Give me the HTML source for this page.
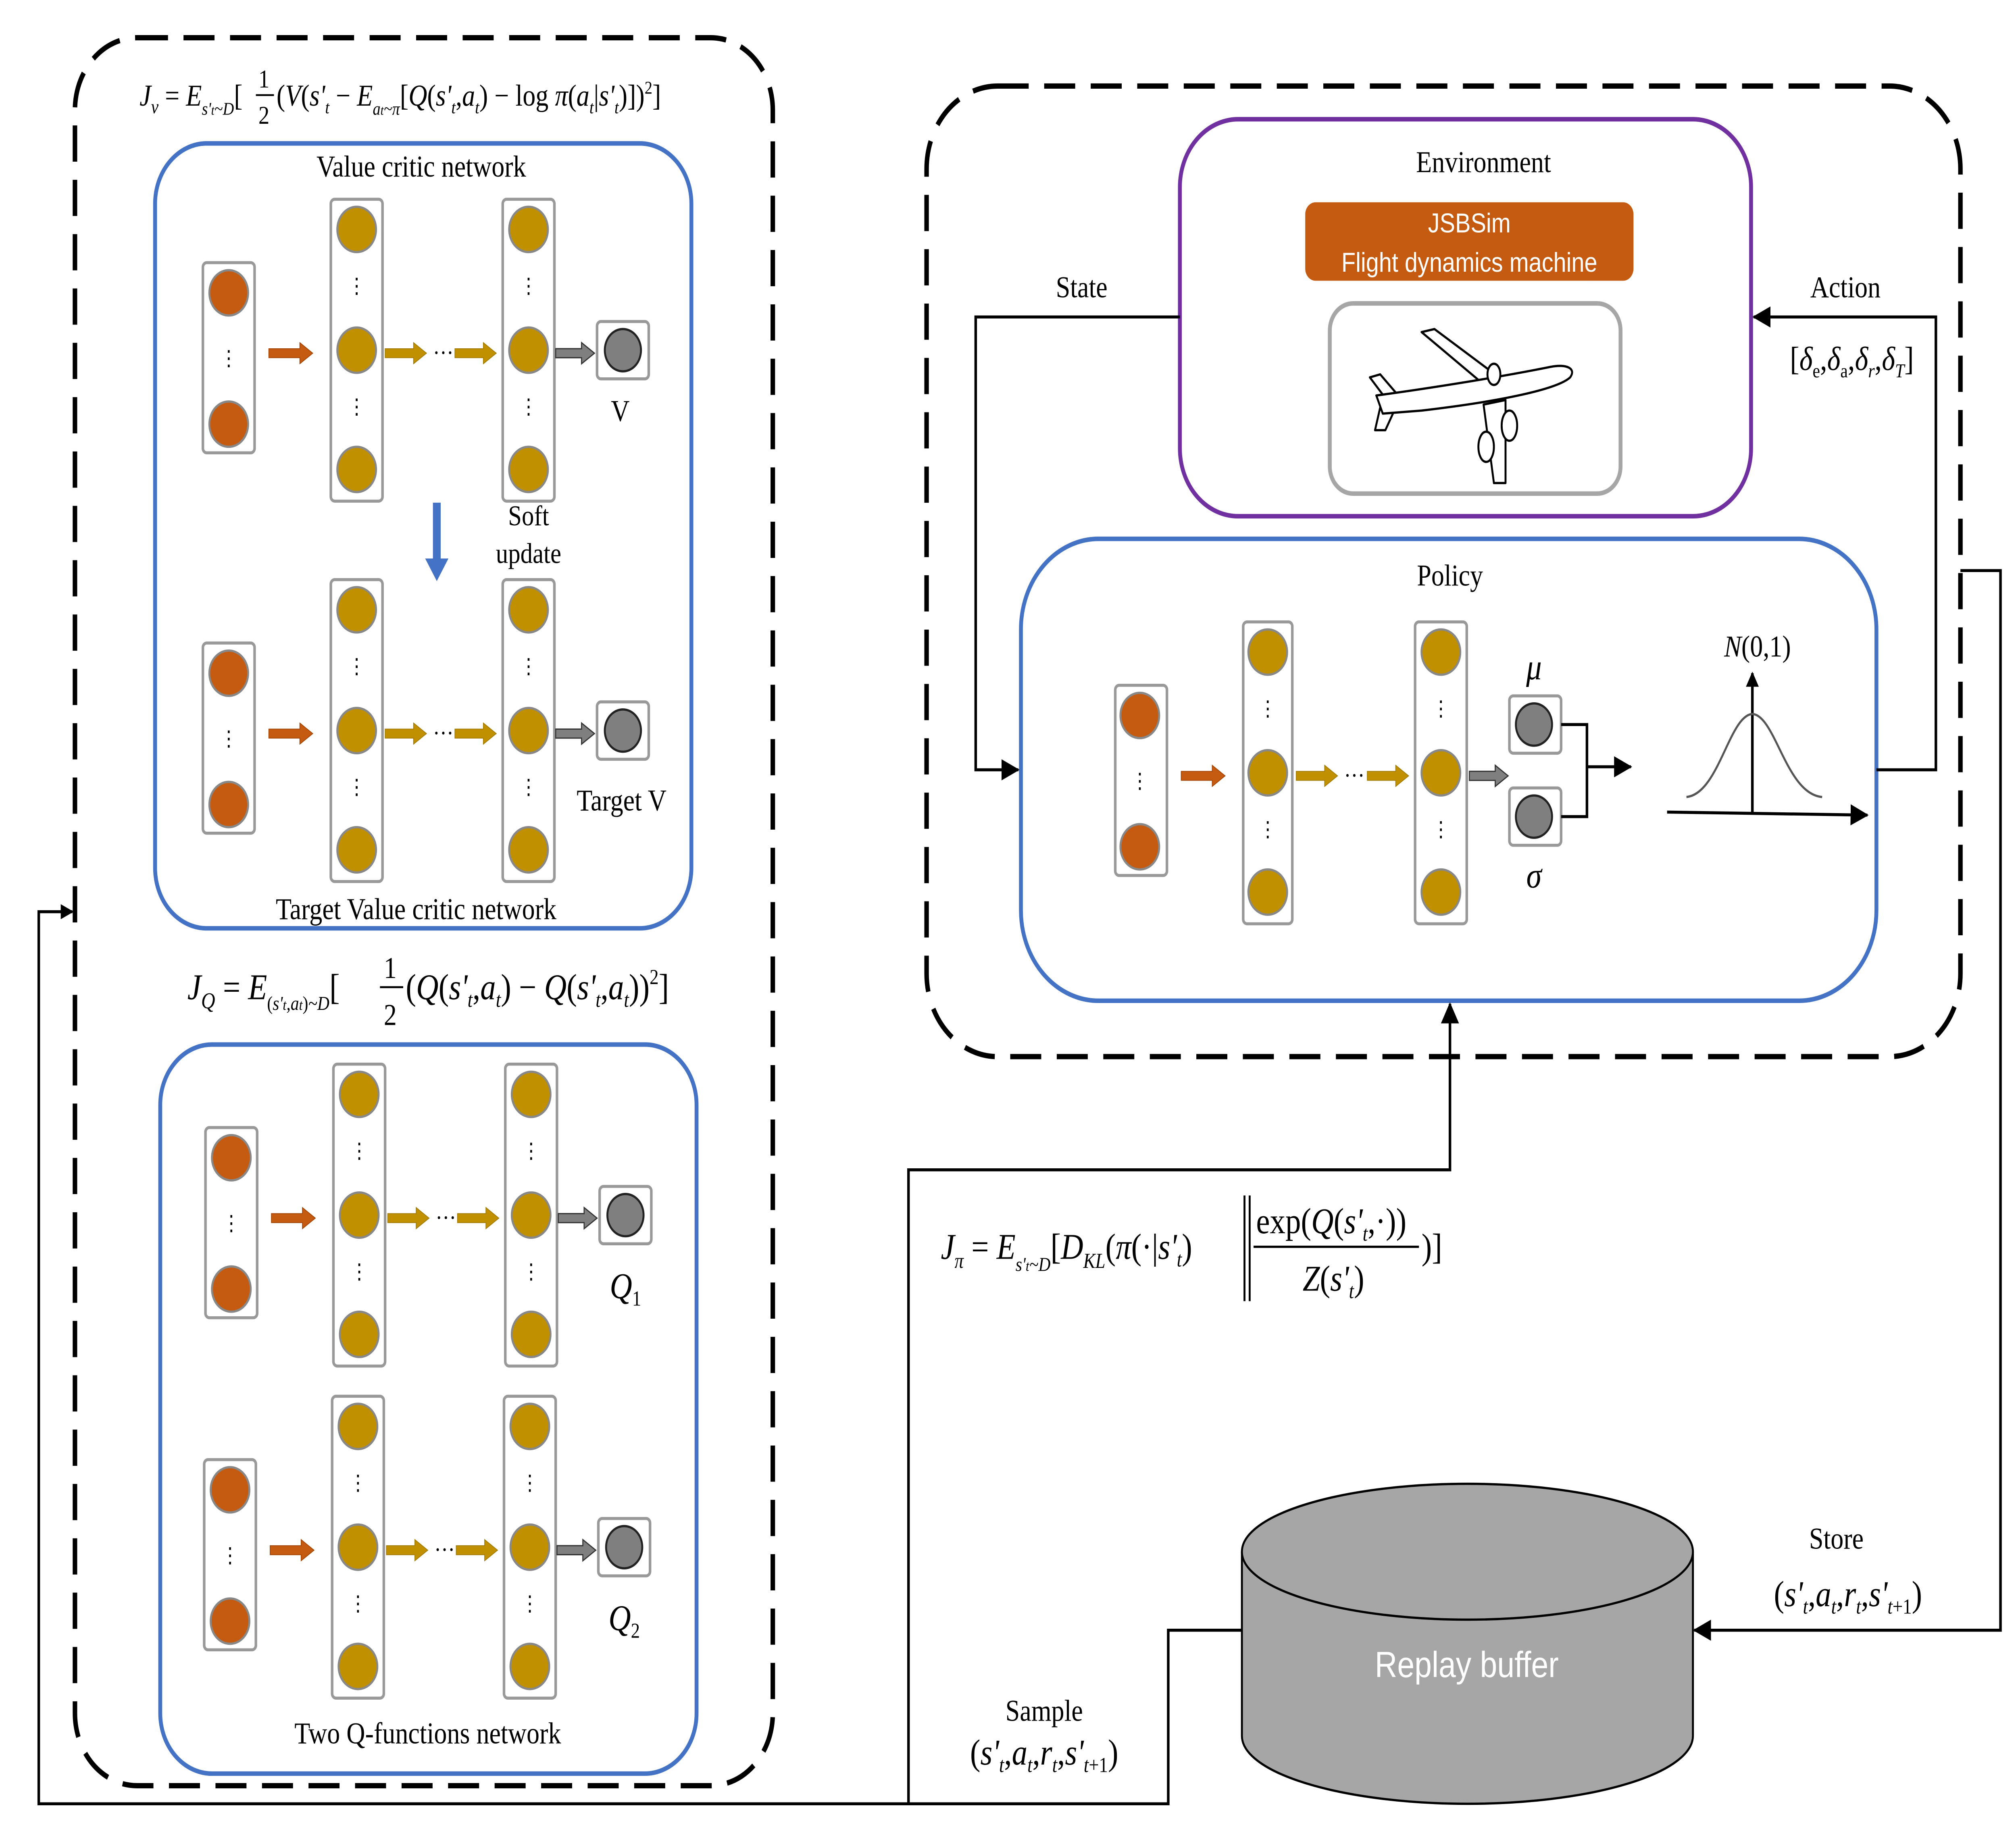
<!DOCTYPE html>
<html><head><meta charset="utf-8"><style>
html,body{margin:0;padding:0;background:#fff;width:100%;height:100%;overflow:hidden;}
svg{display:block;width:100vw;height:100vh;}
text{font-family:"Liberation Serif",serif;fill:#000;}
.m{font-style:italic;}
</style></head><body>
<svg viewBox="0 0 1560 1206.4" preserveAspectRatio="none" xmlns="http://www.w3.org/2000/svg">
<defs>
<marker id="ah" markerWidth="10" markerHeight="10" refX="9" refY="5" orient="auto" markerUnits="userSpaceOnUse"><path d="M0,0 L10,5 L0,10 z" fill="#000"/></marker>
<marker id="ahb" markerWidth="14" markerHeight="14" refX="13" refY="7" orient="auto" markerUnits="userSpaceOnUse"><path d="M0,0 L14,7 L0,14 z" fill="#000"/></marker>
<g id="oa"><path d="M0,-3 L24,-3 L24,-7 L34,0 L24,7 L24,3 L0,3 z" fill="#c55a11" stroke="#a04000" stroke-width="0.5"/></g>
<g id="ga"><path d="M0,-3 L22,-3 L22,-7 L32,0 L22,7 L22,3 L0,3 z" fill="#c09000" stroke="#a07800" stroke-width="0.5"/></g>
<g id="ka"><path d="M0,-3 L20,-3 L20,-7 L30,0 L20,7 L20,3 L0,3 z" fill="#7f7f7f" stroke="#333" stroke-width="0.8"/></g>
<g id="net">
<rect x="-19" y="-60" width="40" height="126" rx="3" fill="#fff" stroke="#999" stroke-width="2"/>
<circle cx="1" cy="-40" r="15" fill="#c55a11" stroke="#888" stroke-width="1.5"/>
<circle cx="1" cy="47" r="15" fill="#c55a11" stroke="#888" stroke-width="1.5"/>
<text x="1" y="8" font-size="14" text-anchor="middle">⋮</text>
<use href="#oa" x="32" y="0"/>
<rect x="80" y="-102" width="40" height="200" rx="3" fill="#fff" stroke="#999" stroke-width="2"/>
<circle cx="100" cy="-82" r="15" fill="#c09000" stroke="#888" stroke-width="1.5"/>
<circle cx="100" cy="-2" r="15" fill="#c09000" stroke="#888" stroke-width="1.5"/>
<circle cx="100" cy="77" r="15" fill="#c09000" stroke="#888" stroke-width="1.5"/>
<text x="100" y="-40" font-size="14" text-anchor="middle">⋮</text>
<text x="100" y="40" font-size="14" text-anchor="middle">⋮</text>
<use href="#ga" x="122" y="0"/>
<text x="167" y="5" font-size="16" text-anchor="middle">···</text>
<use href="#ga" x="176" y="0"/>
<rect x="213" y="-102" width="40" height="200" rx="3" fill="#fff" stroke="#999" stroke-width="2"/>
<circle cx="233" cy="-82" r="15" fill="#c09000" stroke="#888" stroke-width="1.5"/>
<circle cx="233" cy="-2" r="15" fill="#c09000" stroke="#888" stroke-width="1.5"/>
<circle cx="233" cy="77" r="15" fill="#c09000" stroke="#888" stroke-width="1.5"/>
<text x="233" y="-40" font-size="14" text-anchor="middle">⋮</text>
<text x="233" y="40" font-size="14" text-anchor="middle">⋮</text>
<use href="#ka" x="254" y="0"/>
<rect x="286" y="-21" width="40" height="38" rx="3" fill="#fff" stroke="#999" stroke-width="2"/>
<circle cx="306" cy="-2" r="14" fill="#7f7f7f" stroke="#222" stroke-width="1.5"/>
</g>
</defs>

<rect x="58" y="25" width="540" height="1158" rx="48" fill="none" stroke="#000" stroke-width="3.5" stroke-dasharray="24,12"/>
<rect x="717" y="57" width="800" height="643" rx="55" fill="none" stroke="#000" stroke-width="3.5" stroke-dasharray="24,12"/>

<rect x="120" y="95" width="415" height="520" rx="40" fill="none" stroke="#4472c4" stroke-width="3"/>
<text x="326" y="117" font-size="20" text-anchor="middle">Value critic network</text>
<text x="322" y="609" font-size="20" text-anchor="middle">Target Value critic network</text>
<use href="#net" x="176" y="234"/>
<text x="480" y="279" font-size="20" text-anchor="middle">V</text>
<path d="M335,333 L335,370 L329,370 L338,385 L347,370 L341,370 L341,333 z" fill="#4472c4"/>
<text x="409" y="348" font-size="19" text-anchor="middle">Soft</text>
<text x="409" y="373" font-size="19" text-anchor="middle">update</text>
<use href="#net" x="176" y="486"/>
<text x="481" y="537" font-size="20" text-anchor="middle">Target V</text>

<text x="108" y="70" font-size="20" class="m">J<tspan font-size="13" dy="5">v</tspan><tspan dy="-5" font-style="normal"> = </tspan>E<tspan font-size="12" dy="6">s'<tspan font-size="9">t</tspan>~D</tspan><tspan dy="-6" font-style="normal">[</tspan></text>
<text x="200" y="58" font-size="17" font-style="normal">1</text>
<line x1="198" y1="63" x2="212" y2="63" stroke="#000" stroke-width="1.2"/>
<text x="200" y="82" font-size="17" font-style="normal">2</text>
<text x="214" y="70" font-size="20" class="m"><tspan font-style="normal">(</tspan>V<tspan font-style="normal">(</tspan>s'<tspan font-size="12" dy="5">t</tspan><tspan dy="-5" font-style="normal"> − </tspan>E<tspan font-size="12" dy="6">a<tspan font-size="9">t</tspan>~π</tspan><tspan dy="-6" font-style="normal">[</tspan>Q<tspan font-style="normal">(</tspan>s'<tspan font-size="12" dy="5">t</tspan><tspan dy="-5" font-style="normal">,</tspan>a<tspan font-size="12" dy="5">t</tspan><tspan dy="-5" font-style="normal">) − log </tspan>π<tspan font-style="normal">(</tspan>a<tspan font-size="12" dy="5">t</tspan><tspan dy="-5" font-style="normal">|</tspan>s'<tspan font-size="12" dy="5">t</tspan><tspan dy="-5" font-style="normal">)])</tspan><tspan font-size="12" dy="-8" font-style="normal">2</tspan><tspan dy="8" font-style="normal">]</tspan></text>

<text x="145" y="662" font-size="24" class="m">J<tspan font-size="15" dy="6">Q</tspan><tspan dy="-6" font-style="normal"> = </tspan>E<tspan font-size="13" dy="7"><tspan font-style="normal">(</tspan>s'<tspan font-size="10">t</tspan>,a<tspan font-size="10">t</tspan><tspan font-style="normal">)</tspan>~D</tspan><tspan dy="-7" font-style="normal">[</tspan></text>
<text x="297" y="648" font-size="20" font-style="normal">1</text>
<line x1="294" y1="654" x2="312" y2="654" stroke="#000" stroke-width="1.3"/>
<text x="297" y="679" font-size="20" font-style="normal">2</text>
<text x="314" y="662" font-size="24" class="m"><tspan font-style="normal">(</tspan>Q<tspan font-style="normal">(</tspan>s'<tspan font-size="14" dy="5">t</tspan><tspan dy="-5" font-style="normal">,</tspan>a<tspan font-size="14" dy="5">t</tspan><tspan dy="-5" font-style="normal">) − </tspan>Q<tspan font-style="normal">(</tspan>s'<tspan font-size="14" dy="5">t</tspan><tspan dy="-5" font-style="normal">,</tspan>a<tspan font-size="14" dy="5">t</tspan><tspan dy="-5" font-style="normal">))</tspan><tspan font-size="14" dy="-10" font-style="normal">2</tspan><tspan dy="10" font-style="normal">]</tspan></text>

<rect x="124" y="692" width="415" height="483" rx="40" fill="none" stroke="#4472c4" stroke-width="3"/>
<use href="#net" x="178" y="807"/>
<text x="484" y="860" font-size="24" class="m" text-anchor="middle">Q<tspan font-size="14" dy="5" font-style="normal">1</tspan></text>
<use href="#net" x="177" y="1027"/>
<text x="483" y="1080" font-size="24" class="m" text-anchor="middle">Q<tspan font-size="14" dy="5" font-style="normal">2</tspan></text>
<text x="331" y="1155" font-size="20" text-anchor="middle">Two Q-functions network</text>

<rect x="913" y="79" width="442" height="263" rx="45" fill="none" stroke="#7030a0" stroke-width="3"/>
<text x="1148" y="114" font-size="20" text-anchor="middle">Environment</text>
<rect x="1010" y="134" width="254" height="52" rx="8" fill="#c55a11"/>
<text x="1137" y="154" font-size="18" text-anchor="middle" style="font-family:'Liberation Sans',sans-serif;fill:#fff">JSBSim</text>
<text x="1137" y="180" font-size="18" text-anchor="middle" style="font-family:'Liberation Sans',sans-serif;fill:#fff">Flight dynamics machine</text>
<rect x="1029" y="201" width="225" height="126" rx="18" fill="#fff" stroke="#a6a6a6" stroke-width="3"/>
<g fill="#fff" stroke="#000" stroke-width="1.5" stroke-linejoin="round">
<path d="M1100,220 L1110,218 L1160,250 L1150,256 z"/>
<path d="M1148,268 L1165,265 L1165,320 L1156,320 z"/>
<path d="M1060,250 L1068,248 L1082,262 L1074,266 z"/>
<path d="M1068,270 L1080,270 L1072,285 L1064,285 z"/>
<path d="M1065,262 C1100,258 1160,250 1200,243 C1212,241 1220,244 1215,250 C1205,258 1160,266 1100,272 L1070,274 z"/>
<ellipse cx="1168" cy="282" rx="6" ry="10"/>
<ellipse cx="1150" cy="296" rx="6" ry="10"/>
<ellipse cx="1156" cy="248" rx="5" ry="7"/>
</g>

<rect x="790" y="357" width="662" height="306" rx="60" fill="none" stroke="#4472c4" stroke-width="3"/>
<text x="1122" y="388" font-size="20" text-anchor="middle">Policy</text>
<g transform="translate(882,514)">
<rect x="-19" y="-60" width="40" height="126" rx="3" fill="#fff" stroke="#999" stroke-width="2"/>
<circle cx="0" cy="-40" r="15" fill="#c55a11" stroke="#888" stroke-width="1.5"/>
<circle cx="0" cy="47" r="15" fill="#c55a11" stroke="#888" stroke-width="1.5"/>
<text x="0" y="8" font-size="14" text-anchor="middle">⋮</text>
<use href="#oa" x="32" y="0"/>
<rect x="80" y="-102" width="38" height="200" rx="3" fill="#fff" stroke="#999" stroke-width="2"/>
<circle cx="99" cy="-82" r="15" fill="#c09000" stroke="#888" stroke-width="1.5"/>
<circle cx="99" cy="-2" r="15" fill="#c09000" stroke="#888" stroke-width="1.5"/>
<circle cx="99" cy="77" r="15" fill="#c09000" stroke="#888" stroke-width="1.5"/>
<text x="99" y="-40" font-size="14" text-anchor="middle">⋮</text>
<text x="99" y="40" font-size="14" text-anchor="middle">⋮</text>
<use href="#ga" x="121" y="0"/>
<text x="166" y="5" font-size="16" text-anchor="middle">···</text>
<use href="#ga" x="176" y="0"/>
<rect x="213" y="-102" width="40" height="200" rx="3" fill="#fff" stroke="#999" stroke-width="2"/>
<circle cx="233" cy="-82" r="15" fill="#c09000" stroke="#888" stroke-width="1.5"/>
<circle cx="233" cy="-2" r="15" fill="#c09000" stroke="#888" stroke-width="1.5"/>
<circle cx="233" cy="77" r="15" fill="#c09000" stroke="#888" stroke-width="1.5"/>
<text x="233" y="-40" font-size="14" text-anchor="middle">⋮</text>
<text x="233" y="40" font-size="14" text-anchor="middle">⋮</text>
<use href="#ka" x="255" y="0"/>
</g>
<rect x="1168" y="461" width="40" height="38" rx="3" fill="#fff" stroke="#999" stroke-width="2"/>
<circle cx="1187" cy="480" r="14" fill="#7f7f7f" stroke="#222" stroke-width="1.5"/>
<rect x="1168" y="522" width="40" height="38" rx="3" fill="#fff" stroke="#999" stroke-width="2"/>
<circle cx="1187" cy="541" r="14" fill="#7f7f7f" stroke="#222" stroke-width="1.5"/>
<text x="1187" y="450" font-size="24" class="m" text-anchor="middle">μ</text>
<text x="1187" y="588" font-size="24" class="m" text-anchor="middle">σ</text>
<path d="M1208,480 L1228,480 L1228,541 L1208,541" fill="none" stroke="#000" stroke-width="2"/>
<line x1="1228" y1="508" x2="1262" y2="508" stroke="#000" stroke-width="2" marker-end="url(#ahb)"/>
<line x1="1290" y1="538" x2="1445" y2="540" stroke="#000" stroke-width="2" marker-end="url(#ahb)"/>
<line x1="1356" y1="538" x2="1356" y2="446" stroke="#000" stroke-width="2" marker-end="url(#ah)"/>
<path d="M1305,528 C1330,526 1338,474 1356,473 C1374,474 1382,526 1410,528" fill="none" stroke="#555" stroke-width="1.5"/>
<text x="1360" y="435" font-size="20" class="m" text-anchor="middle">N<tspan font-style="normal">(0,1)</tspan></text>

<path d="M913,210 L755,210 L755,510 L788,510" fill="none" stroke="#000" stroke-width="2" marker-end="url(#ahb)"/>
<text x="837" y="197" font-size="20" text-anchor="middle">State</text>
<path d="M1452,510 L1498,510 L1498,210 L1357,210" fill="none" stroke="#000" stroke-width="2" marker-end="url(#ahb)"/>
<text x="1428" y="197" font-size="20" text-anchor="middle">Action</text>
<text x="1433" y="245" font-size="22" text-anchor="middle" class="m"><tspan font-style="normal">[</tspan>δ<tspan font-size="13" dy="5" font-style="normal">e</tspan><tspan dy="-5" font-style="normal">,</tspan>δ<tspan font-size="13" dy="5" font-style="normal">a</tspan><tspan dy="-5" font-style="normal">,</tspan>δ<tspan font-size="13" dy="5">r</tspan><tspan dy="-5" font-style="normal">,</tspan>δ<tspan font-size="13" dy="5">T</tspan><tspan dy="-5" font-style="normal">]</tspan></text>

<path d="M1517,378 L1548,378 L1548,1080 L1311,1080" fill="none" stroke="#000" stroke-width="2" marker-end="url(#ahb)"/>
<text x="1421" y="1026" font-size="20" text-anchor="middle">Store</text>
<text x="1430" y="1064" font-size="24" text-anchor="middle" class="m"><tspan font-style="normal">(</tspan>s'<tspan font-size="14" dy="5">t</tspan><tspan dy="-5" font-style="normal">,</tspan>a<tspan font-size="14" dy="5">t</tspan><tspan dy="-5" font-style="normal">,</tspan>r<tspan font-size="14" dy="5">t</tspan><tspan dy="-5" font-style="normal">,</tspan>s'<tspan font-size="14" dy="5">t<tspan font-style="normal">+1</tspan></tspan><tspan dy="-5" font-style="normal">)</tspan></text>

<path d="M961,1028 L961,1150 A174.5,45 0 0 0 1310,1150 L1310,1028" fill="#a6a6a6" stroke="#000" stroke-width="1.5"/>
<ellipse cx="1135.5" cy="1028" rx="174.5" ry="45" fill="#a6a6a6" stroke="#000" stroke-width="1.5"/>
<text x="1135" y="1111" font-size="24" text-anchor="middle" style="font-family:'Liberation Sans',sans-serif;fill:#fff">Replay buffer</text>

<path d="M961,1080 L904,1080 L904,1195 L30,1195 L30,604 L56,604" fill="none" stroke="#000" stroke-width="2" marker-end="url(#ah)"/>
<path d="M703,1195 L703,775 L1122,775 L1122,665" fill="none" stroke="#000" stroke-width="2" marker-end="url(#ahb)"/>
<text x="808" y="1140" font-size="20" text-anchor="middle">Sample</text>
<text x="808" y="1169" font-size="24" text-anchor="middle" class="m"><tspan font-style="normal">(</tspan>s'<tspan font-size="14" dy="5">t</tspan><tspan dy="-5" font-style="normal">,</tspan>a<tspan font-size="14" dy="5">t</tspan><tspan dy="-5" font-style="normal">,</tspan>r<tspan font-size="14" dy="5">t</tspan><tspan dy="-5" font-style="normal">,</tspan>s'<tspan font-size="14" dy="5">t<tspan font-style="normal">+1</tspan></tspan><tspan dy="-5" font-style="normal">)</tspan></text>

<text x="728" y="834" font-size="24" class="m">J<tspan font-size="14" dy="6">π</tspan><tspan dy="-6" font-style="normal"> = </tspan>E<tspan font-size="13" dy="8">s'<tspan font-size="10">t</tspan>~D</tspan><tspan dy="-8" font-style="normal">[</tspan>D<tspan font-size="14" dy="6">KL</tspan><tspan dy="-6" font-style="normal">(</tspan>π<tspan font-style="normal">(·|</tspan>s'<tspan font-size="14" dy="5">t</tspan><tspan dy="-5" font-style="normal">)</tspan></text>
<line x1="963" y1="792" x2="963" y2="862" stroke="#000" stroke-width="1.5"/>
<line x1="967" y1="792" x2="967" y2="862" stroke="#000" stroke-width="1.5"/>
<text x="972" y="817" font-size="24" class="m"><tspan font-style="normal">exp(</tspan>Q<tspan font-style="normal">(</tspan>s'<tspan font-size="14" dy="5">t</tspan><tspan dy="-5" font-style="normal">,·))</tspan></text>
<line x1="970" y1="826" x2="1098" y2="826" stroke="#000" stroke-width="1.5"/>
<text x="1008" y="855" font-size="24" class="m">Z<tspan font-style="normal">(</tspan>s'<tspan font-size="14" dy="5">t</tspan><tspan dy="-5" font-style="normal">)</tspan></text>
<text x="1100" y="834" font-size="24">)]</text>
</svg>
</body></html>
